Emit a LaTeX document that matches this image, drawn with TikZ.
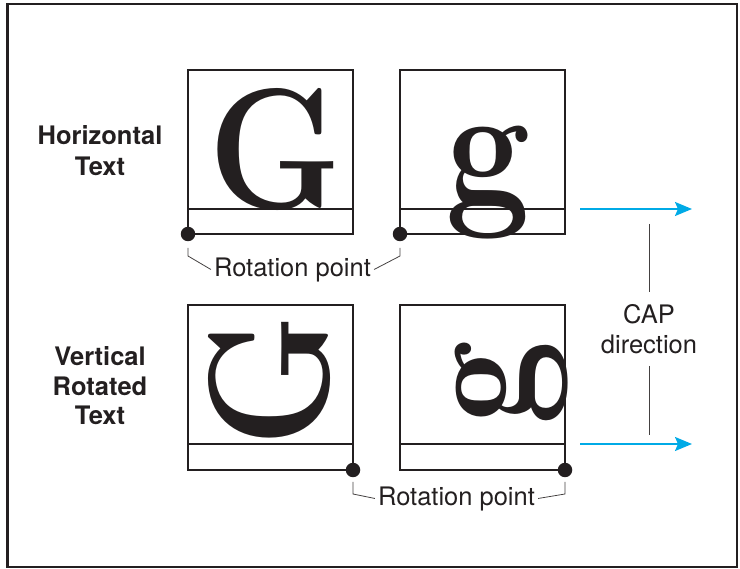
\documentclass[tikz,border=0pt]{standalone}
\usepackage{fontspec}
\newfontfamily\hv{TeX Gyre Heros}
\usetikzlibrary{arrows.meta}
\definecolor{capblue}{RGB}{0,170,230}
\definecolor{ink}{RGB}{35,31,32}
\newcommand{\glyphbox}[1]{\scalebox{0.88}[1]{#1}}
\begin{document}
\begin{tikzpicture}[x=1pt,y=-1pt,
  box/.style={draw=ink, line width=1.1pt, minimum width=165pt, minimum height=164pt, inner sep=0pt, outer sep=0pt},
  lbl/.style={text=ink, font=\hv\fontsize{25.5}{30}\selectfont, inner sep=0pt, anchor=base},
  blbl/.style={text=ink, font=\hv\bfseries\fontsize{25.5}{30}\selectfont, inner sep=0pt, anchor=base},
  glyph/.style={text=ink, font=\bfseries\fontsize{172}{172}\selectfont, inner sep=0pt, anchor=base},
  rdot/.style={circle, fill=ink, minimum size=14.5pt, inner sep=0pt},
  lead/.style={draw=ink!85, line width=0.8pt},
  caparrow/.style={draw=capblue, line width=2pt, -{Stealth[length=17pt,width=14pt,inset=3pt]}}
]
\useasboundingbox (0,0) rectangle (740,569);
\draw[ink, line width=2.5pt] (7.5,4) rectangle (737,567);

% glyphs
\node[glyph] (gG) at (275,209) {\glyphbox{G}};
\node[glyph] (gg) at (488,205) {\glyphbox{g}};
\node[glyph, rotate=90] (rG) at (328,381) {\glyphbox{G}};
\node[glyph, rotate=90] (rg) at (533,383) {\glyphbox{g}};

% boxes
\node[box] (b1) at (270.5,152) {};
\node[box] (b2) at (482.5,152) {};
\node[box, minimum height=165pt] (b3) at (270.5,387.5) {};
\node[box, minimum height=165pt] (b4) at (482.5,387.5) {};
\draw[ink, line width=1.1pt] ([yshift=25pt]b1.south west) -- ([yshift=25pt]b1.south east);
\draw[ink, line width=1.1pt] ([yshift=25pt]b2.south west) -- ([yshift=25pt]b2.south east);
\draw[ink, line width=1.1pt] ([yshift=26pt]b3.south west) -- ([yshift=26pt]b3.south east);
\draw[ink, line width=1.1pt] ([yshift=26pt]b4.south west) -- ([yshift=26pt]b4.south east);

% rotation points
\node[rdot] (d1) at (b1.south west) {};
\node[rdot] (d2) at (b2.south west) {};
\node[rdot] (d3) at (b3.south east) {};
\node[rdot] (d4) at (b4.south east) {};

% labels
\node[lbl] (rp1) at (292.5,277) {Rotation point};
\node[lbl] (rp2) at (456.5,506) {Rotation point};
\draw[lead] ([yshift=-14pt]d1.center) -- ([yshift=-22pt]d1.center) -- ([xshift=-3pt,yshift=1pt]rp1.west);
\draw[lead] ([yshift=-14pt]d2.center) -- ([yshift=-22pt]d2.center) -- ([xshift=3pt,yshift=1pt]rp1.east);
\draw[lead] ([yshift=-12pt]d3.center) -- ([yshift=-24pt]d3.center) -- ([xshift=-3pt,yshift=1pt]rp2.west);
\draw[lead] ([yshift=-12pt]d4.center) -- ([yshift=-24pt]d4.center) -- ([xshift=3pt,yshift=1pt]rp2.east);

\node[blbl] (h1) at (100,145) {Horizontal};
\node[blbl] (h2) at (100,176) {Text};
\node[blbl] (v1) at (100,366) {Vertical};
\node[blbl] (v2) at (100,395.5) {Rotated};
\node[blbl] (v3) at (100,425) {Text};

% CAP direction
\coordinate (a1s) at (580,209);
\coordinate (a1e) at (692,209);
\coordinate (a2s) at (580,444);
\coordinate (a2e) at (692,444);
\draw[caparrow] (a1s) -- (a1e);
\draw[caparrow] (a2s) -- (a2e);
\node[text=ink, font=\hv\fontsize{25.5}{30}\selectfont, align=center, inner xsep=0pt, inner ysep=12pt] (cap) at (649,329) {CAP\\direction};
\coordinate (c1) at (649,224);
\coordinate (c2) at (649,435);
\draw[lead] (c1) -- (cap.north);
\draw[lead] (cap.south) -- (c2);
\end{tikzpicture}
\end{document}
